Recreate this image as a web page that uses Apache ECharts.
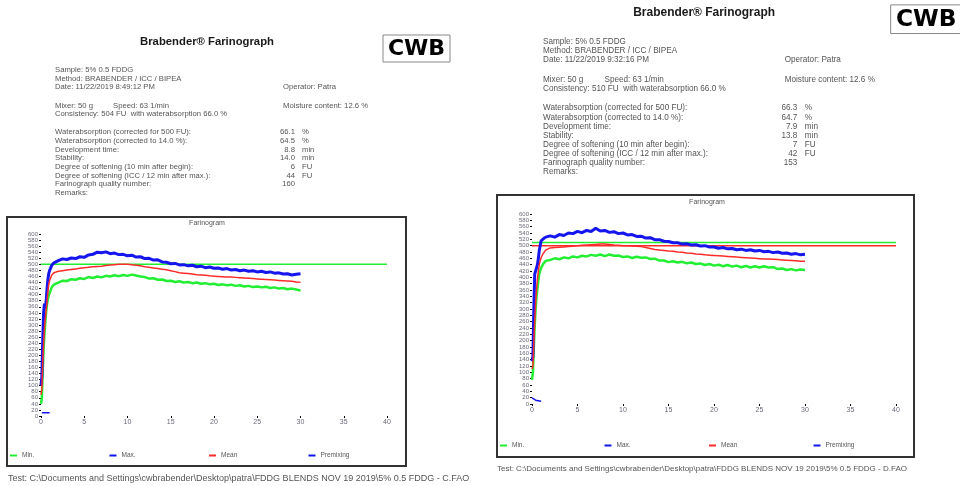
<!DOCTYPE html>
<html>
<head>
<meta charset="utf-8">
<title>Brabender Farinograph</title>
<script src="https://cdn.jsdelivr.net/npm/echarts@6/dist/echarts.min.js"></script>
<style>
  html, body { margin: 0; padding: 0; background: #fff; }
  #main { width: 960px; height: 486px; }
</style>
</head>
<body>
<div id="main"></div>
<script>
// time axis (min), shared by the Min / Max / Mean curves of both farinograms
const minutes = [
  0, 0.1, 0.2, 0.3, 0.4, 0.5, 0.6, 0.7, 0.8, 0.9, 1, 1.25, 1.5,
  2, 2.5, 3, 3.5, 4, 4.5, 5, 5.5, 6, 6.5, 7, 7.5, 8, 8.5, 9, 9.5,
  10, 10.5, 11, 11.5, 12, 12.5, 13, 13.5, 14, 14.5, 15, 15.5, 16, 16.5,
  17, 17.5, 18, 18.5, 19, 19.5, 20, 20.5, 21, 21.5, 22, 22.5, 23, 23.5,
  24, 24.5, 25, 25.5, 26, 26.5, 27, 27.5, 28, 28.5, 29, 29.5, 30
];

// left report (test C)
const leftMin = [
  40, 60, 150, 220, 270, 310, 345, 370, 385, 398, 405, 425, 433,
  440, 446, 445, 451, 449, 454, 452, 458, 455, 460, 457, 462, 460, 464, 461, 465,
  462, 466, 463, 460, 458, 453, 454, 449, 450, 445, 446, 442, 444, 440,
  442, 438, 440, 436, 438, 434, 436, 432, 434, 431, 433, 429, 431, 427,
  429, 425, 427, 424, 426, 422, 424, 420, 422, 418, 420, 417, 414
];
const leftMax = [
  100, 130, 250, 340, 370, 355, 380, 420, 450, 470, 480, 497, 505,
  512, 518, 516, 521, 519, 525, 523, 531, 533, 540, 538, 541, 535, 537, 532, 533,
  528, 530, 524, 525, 519, 520, 514, 515, 508, 507, 502, 503, 498, 499,
  495, 497, 492, 494, 489, 491, 487, 488, 484, 486, 481, 483, 479, 481,
  477, 479, 475, 477, 473, 475, 471, 472, 468, 469, 465, 467, 469
];
const leftMean = [
  70, 90, 180, 240, 290, 320, 350, 380, 410, 435, 447, 465, 472,
  477, 479, 481, 483, 485, 487, 489, 490, 492, 493, 494, 496, 498, 499, 500, 500,
  500, 499, 497, 495, 492, 490, 488, 486, 484, 482, 479, 476, 472, 471,
  470, 468, 466, 465, 464, 462, 461, 460, 459, 458, 458, 457, 456, 455,
  454, 453, 452, 451, 450, 449, 448, 447, 446, 445, 444, 442, 441
];
const leftPremixTime = [0.1, 1.0];
const leftPremix = [11, 11];

// right report (test D)
const rightMin = [
  76, 100, 180, 250, 300, 340, 365, 390, 410, 420, 430, 443, 452,
  455, 460, 457, 463, 460, 466, 463, 468, 466, 471, 468, 472, 467, 472, 468, 469,
  464, 466, 461, 465, 462, 463, 458, 459, 453, 453, 448, 451, 447, 449,
  444, 447, 442, 444, 439, 442, 437, 440, 435, 439, 434, 437, 432, 436,
  431, 435, 431, 435, 431, 432, 426, 428, 423, 426, 422, 425, 423
];
const rightMax = [
  135, 150, 300, 410, 420, 425, 440, 460, 485, 500, 515, 522, 527,
  531, 527, 535, 532, 540, 538, 545, 541, 548, 545, 555, 546, 548, 542, 544, 538,
  540, 534, 535, 529, 530, 524, 525, 519, 519, 514, 513, 509, 509, 505,
  506, 502, 503, 499, 500, 496, 496, 492, 494, 490, 491, 487, 489, 485,
  487, 483, 485, 481, 482, 478, 480, 476, 477, 473, 475, 471, 473
];
const rightMean = [
  110, 120, 200, 260, 320, 360, 395, 420, 440, 452, 462, 476, 486,
  493, 494, 495, 496, 497, 498, 500, 501, 502, 503, 504, 505, 505, 504, 502, 501,
  500, 500, 499, 498, 497, 494, 491, 488, 486, 485, 483, 482, 480, 479,
  477, 476, 474, 473, 471, 470, 469, 468, 467, 466, 465, 464, 463, 462,
  461, 460, 459, 458, 458, 457, 456, 455, 454, 453, 452, 451, 451
];
const rightPremixTime = [0, 0.2, 0.4, 0.5, 1.0];
const rightPremix = [19, 17, 12, 9, 9];

// consistency limit lines
const limitTime = [0, 40];
const leftLimit = [500, 500];
const rightLimitUpper = [510, 510];
const rightLimitLower = [500, 500];

const legendNames = ['Min.', 'Max.', 'Mean', 'Premixing'];

const leftReport = {
  sample: 'Sample: 5% 0.5 FDDG',
  date: 'Date: 11/22/2019 8:49:12 PM',
  consistency: 'Consistency: 504 FU  with waterabsorption 66.0 %',
  values: ['66.1', '64.5', '8.8', '14.0', '6', '44', '160'],
  file: 'Test: C:\\Documents and Settings\\cwbrabender\\Desktop\\patra\\FDDG BLENDS NOV 19 2019\\5% 0.5 FDDG - C.FAO'
};
const rightReport = {
  sample: 'Sample: 5% 0.5 FDDG',
  date: 'Date: 11/22/2019 9:32:16 PM',
  consistency: 'Consistency: 510 FU  with waterabsorption 66.0 %',
  values: ['66.3', '64.7', '7.9', '13.8', '7', '42', '153'],
  file: 'Test: C:\\Documents and Settings\\cwbrabender\\Desktop\\patra\\FDDG BLENDS NOV 19 2019\\5% 0.5 FDDG - D.FAO'
};
const resultLabels = [
  'Waterabsorption (corrected for 500 FU):',
  'Waterabsorption (corrected to 14.0 %):',
  'Development time:',
  'Stability:',
  'Degree of softening (10 min after begin):',
  'Degree of softening (ICC / 12 min after max.):',
  'Farinograph quality number:'
];
const resultUnits = ['%', '%', 'min', 'min', 'FU', 'FU', ''];

const GREEN = '#22ee33';
const BLUE = '#1515ee';
const RED = '#ff2b2b';
const FONT = '"Liberation Sans", Arial, sans-serif';

function pairs(t, v) {
  return t.map((x, i) => [x, v[i]]);
}

function txt(text, x, y, size, extra) {
  return {
    type: 'text', x: x, y: y, silent: true,
    style: Object.assign({
      text: text, fill: '#555', font: size + 'px ' + FONT,
      align: 'left', verticalAlign: 'middle'
    }, extra || {})
  };
}

// header block of one report, x0/y0 = "Sample:" line, s = scale
function reportHeader(r, x0, y0, s) {
  const fs = 7.7 * s;
  const X = dx => x0 + dx * s;
  const Y = dy => y0 + dy * s;
  const els = [
    txt('Brabender® Farinograph', X(152), Y(-28), 11.3 * s, { align: 'center', font: 'bold ' + 11.3 * s + 'px ' + FONT, fill: '#1a1a1a' }),
    { type: 'rect', x: X(328), y: Y(-35), shape: { width: 67 * s, height: 27 * s },
      style: { fill: '#fff', stroke: '#888', lineWidth: 1 } },
    txt('CWB', X(328 + 33.5), Y(-21), 22 * s, { align: 'center', fill: '#000',
      font: '900 ' + 22 * s + 'px "DejaVu Sans", sans-serif' }),
    txt(r.sample, X(0), Y(0), fs),
    txt('Method: BRABENDER / ICC / BIPEA', X(0), Y(8.5), fs),
    txt(r.date, X(0), Y(17), fs),
    txt('Operator: Patra', X(228), Y(17), fs),
    txt('Mixer: 50 g', X(0), Y(35.5), fs),
    txt('Speed: 63 1/min', X(58), Y(35.5), fs),
    txt('Moisture content: 12.6 %', X(228), Y(35.5), fs),
    txt(r.consistency, X(0), Y(44), fs),
    txt('Remarks:', X(0), Y(122.5), fs)
  ];
  const rows = [62, 71, 80, 88, 96.5, 105.5, 114];
  resultLabels.forEach((lab, i) => {
    els.push(txt(lab, X(0), Y(rows[i]), fs));
    els.push(txt(r.values[i], X(240), Y(rows[i]), fs, { align: 'right' }));
    if (resultUnits[i]) els.push(txt(resultUnits[i], X(247), Y(rows[i]), fs));
  });
  return els;
}

function axisPair(gridIndex) {
  const x = {
    type: 'value', gridIndex: gridIndex, min: 0, max: 40, interval: 5,
    axisLine: { show: false },
    axisTick: { show: true, length: 2, lineStyle: { color: '#000' } },
    axisLabel: { fontSize: 7, color: '#6a6a7a', margin: 3, fontFamily: FONT },
    splitLine: { show: false }
  };
  const y = {
    type: 'value', gridIndex: gridIndex, min: 0, max: 600, interval: 20,
    axisLine: { show: false },
    axisTick: { show: true, length: 2, lineStyle: { color: '#000' } },
    axisLabel: { fontSize: 6, color: '#6a6a7a', margin: 3, fontFamily: FONT, lineHeight: 6 },
    splitLine: { show: false }
  };
  return [x, y];
}

function line(name, idx, data, color, width) {
  return {
    name: name, type: 'line', xAxisIndex: idx, yAxisIndex: idx,
    data: data, showSymbol: false, symbol: 'none',
    lineStyle: { color: color, width: width }, itemStyle: { color: color },
    emphasis: { disabled: true }, animation: false
  };
}

// one legend component per entry so the entries sit on an even pitch
function legendRow(x0, pitch, top) {
  return legendNames.map((n, i) => ({
    data: [n], left: x0 + i * pitch, top: top, orient: 'horizontal',
    icon: 'rect', itemWidth: 7, itemHeight: 2, padding: 0,
    selectedMode: false,
    textStyle: { fontSize: 6.5, color: '#555', fontFamily: FONT }
  }));
}

const [lx, ly] = axisPair(0);
const [rx, ry] = axisPair(1);

const chart = echarts.init(document.getElementById('main'), null, { renderer: 'canvas' });

const graphics = []
  .concat(reportHeader(leftReport, 55, 70, 1))
  .concat(reportHeader(rightReport, 543, 42, 1.06))
  .concat([
    { type: 'rect', x: 7, y: 217, shape: { width: 399, height: 249 },
      style: { fill: 'none', stroke: '#333', lineWidth: 2 }, silent: true },
    { type: 'rect', x: 497, y: 195, shape: { width: 417, height: 262 },
      style: { fill: 'none', stroke: '#333', lineWidth: 2 }, silent: true },
    txt('Farinogram', 207, 223, 7, { align: 'center', fill: '#555' }),
    txt('Farinogram', 707, 202, 7, { align: 'center', fill: '#555' }),
    txt(leftReport.file, 8, 479, 9, { fill: '#555' }),
    txt(rightReport.file, 497, 469, 8, { fill: '#555' })
  ]);

chart.setOption({
  backgroundColor: '#fff',
  animation: false,
  grid: [
    { left: 41, top: 234, width: 346, height: 182 },
    { left: 532, top: 214, width: 364, height: 190 }
  ],
  xAxis: [lx, rx],
  yAxis: [ly, ry],
  legend: legendRow(10, 99.5, 452).concat(legendRow(500, 104.5, 442)),
  graphic: graphics,
  series: [
    line('limit-left', 0, pairs(limitTime, leftLimit), GREEN, 1.5),
    line('Min.', 0, pairs(minutes, leftMin), GREEN, 2.5),
    line('Max.', 0, pairs(minutes, leftMax), BLUE, 3),
    line('Mean', 0, pairs(minutes, leftMean), RED, 1.5),
    line('Premixing', 0, pairs(leftPremixTime, leftPremix), BLUE, 1.5),

    line('limit-right-upper', 1, pairs(limitTime, rightLimitUpper), GREEN, 1.5),
    line('limit-right-lower', 1, pairs(limitTime, rightLimitLower), RED, 1.5),
    line('Min.', 1, pairs(minutes, rightMin), GREEN, 2.5),
    line('Max.', 1, pairs(minutes, rightMax), BLUE, 3),
    line('Mean', 1, pairs(minutes, rightMean), RED, 1.5),
    line('Premixing', 1, pairs(rightPremixTime, rightPremix), BLUE, 1.5)
  ]
});
</script>
</body>
</html>
